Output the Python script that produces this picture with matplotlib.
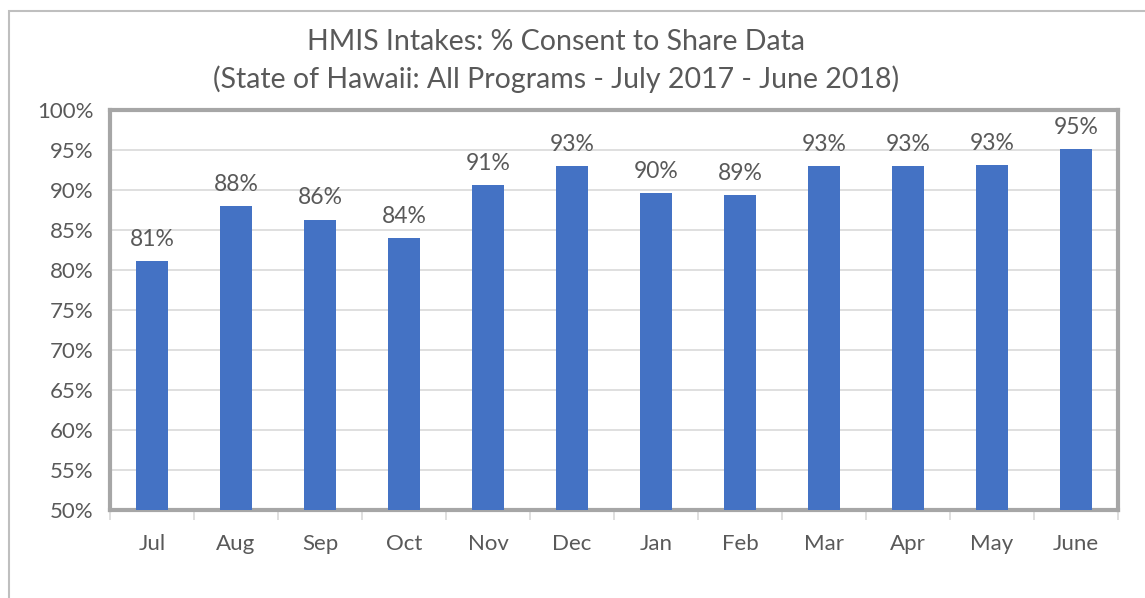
import matplotlib
matplotlib.use('Agg')
import matplotlib.pyplot as plt
from matplotlib.patches import Rectangle

# data
months = ['Jul', 'Aug', 'Sep', 'Oct', 'Nov', 'Dec', 'Jan', 'Feb', 'Mar', 'Apr', 'May', 'June']
consent_pct = [81.1, 88.0, 86.3, 84.0, 90.6, 93.0, 89.6, 89.4, 92.95, 92.95, 93.15, 95.1]
y_ticks = [50, 55, 60, 65, 70, 75, 80, 85, 90, 95, 100]
title_lines = ['HMIS Intakes: % Consent to Share Data',
               '(State of Hawaii: All Programs - July 2017 - June 2018)']

plt.rcParams['font.family'] = ['Lato', 'DejaVu Sans']
text_col = '#595959'
bar_col = '#4472C4'

fig = plt.figure(figsize=(11.45, 5.98), dpi=100)
fig.patch.set_facecolor('white')
# outer chart border
fig.patches.append(Rectangle((9 / 1145, -0.05), 1.1, 1 - 11 / 598 + 0.05,
                             transform=fig.transFigure, fill=False,
                             edgecolor='#BFBFBF', linewidth=1.5))

ax = fig.add_axes([110 / 1145, 1 - 510 / 598, (1118 - 110) / 1145, 400 / 598])

x = list(range(len(months)))
ax.bar(x, consent_pct, width=0.39, color=bar_col, zorder=3)

for xi, v in zip(x, consent_pct):
    ax.annotate(f'{round(v):.0f}%', (xi, v), xytext=(0, 8), textcoords='offset points',
                ha='center', va='bottom', fontsize=16.5, color=text_col)

ax.set_xlim(-0.5, len(months) - 0.5)
ax.set_ylim(50, 100)
ax.set_yticks(y_ticks)
ax.set_yticklabels([f'{t}%' for t in y_ticks])
ax.set_xticks(x)
ax.set_xticklabels(months)
ax.set_xticks([i - 0.5 for i in range(len(months) + 1)], minor=True)

ax.grid(axis='y', color='#D9D9D9', linewidth=1.2, zorder=0)
ax.tick_params(axis='both', which='major', length=0, colors=text_col, labelsize=16)
ax.tick_params(axis='y', pad=12)
ax.tick_params(axis='x', pad=17)
ax.tick_params(axis='x', which='minor', length=7, width=1.2, color='#D9D9D9', direction='out')

for s in ax.spines.values():
    s.set_color('#A6A6A6')
    s.set_linewidth(3)

for i, line in enumerate(title_lines):
    fig.text(556 / 1145, 1 - (42 + 37 * i) / 598, line, ha='center', va='center',
             fontsize=20.5, color=text_col)

fig.savefig('out.png', dpi=100)
